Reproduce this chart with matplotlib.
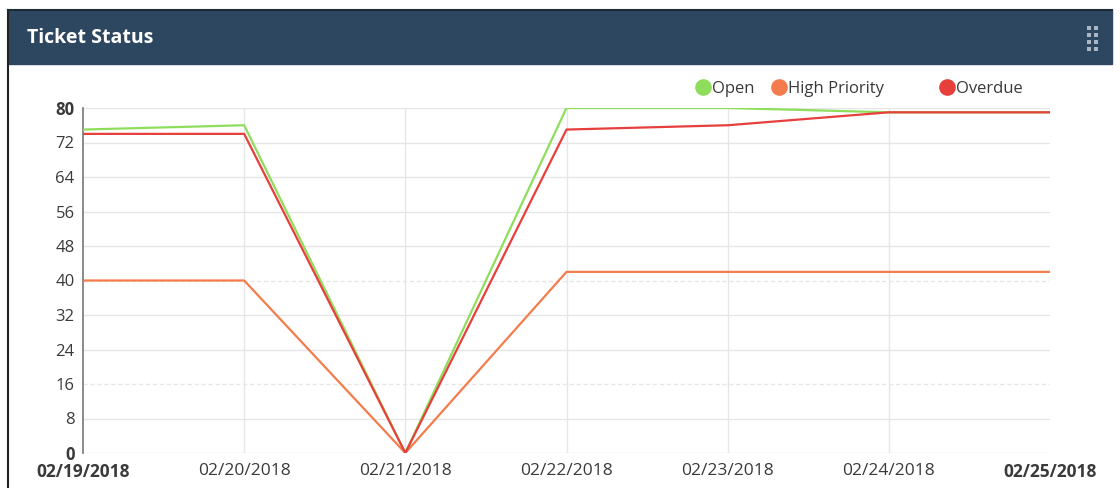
import matplotlib.pyplot as plt
from matplotlib.patches import Rectangle
from matplotlib.lines import Line2D

plt.rcParams['font.family'] = ['Open Sans', 'DejaVu Sans']

dates = ['02/19/2018', '02/20/2018', '02/21/2018', '02/22/2018',
         '02/23/2018', '02/24/2018', '02/25/2018']
open_vals = [75, 76, 0, 80, 80, 79, 79]
high_priority = [40, 40, 0, 42, 42, 42, 42]
overdue = [74, 74, 0, 75, 76, 79, 79]
y_ticks = [0, 8, 16, 24, 32, 40, 48, 56, 64, 72, 80]

green = '#8ede5c'
orange = '#f47c4c'
red = '#e63f3c'
text_col = '#3a3a3a'

W, H = 1120, 488
fig = plt.figure(figsize=(W / 100, H / 100), dpi=100)

# card header + frame
fig.add_artist(Rectangle((8 / W, 1 - 64 / H), 1104 / W, 54 / H,
                         transform=fig.transFigure, color='#2e4760', zorder=0))
fig.add_artist(Line2D([8 / W, 8 / W], [0, 1 - 10 / H], transform=fig.transFigure,
                      color='#222222', lw=1.5))
fig.add_artist(Line2D([8 / W, 1112 / W], [1 - 10 / H, 1 - 10 / H],
                      transform=fig.transFigure, color='#1c2a38', lw=1.5))
fig.text(27 / W, 1 - 38 / H, 'Ticket Status', color='white', fontsize=14,
         fontweight='bold', va='center', ha='left')
# drag handle dots
for cx in (1089, 1096):
    for cy in (28, 35, 42, 49):
        fig.add_artist(Line2D([cx / W], [1 - cy / H], marker='s', ms=2.6, mew=0,
                              color='#aab6c3', transform=fig.transFigure))

ax = fig.add_axes([83 / W, 35 / H, 967 / W, 345 / H])
x = list(range(len(dates)))
ax.plot(x, high_priority, color=orange, lw=1.6, zorder=3)
ax.plot(x, open_vals, color=green, lw=1.6, zorder=4)
ax.plot(x, overdue, color=red, lw=1.6, zorder=5)

ax.set_xlim(0, len(dates) - 1)
ax.set_ylim(0, 80)
ax.set_yticks(y_ticks)
ax.set_xticks(x)
ax.set_xticklabels(dates)
ax.tick_params(length=0, colors=text_col)
ax.tick_params(axis='x', labelsize=12.5, pad=7)
ax.tick_params(axis='y', labelsize=12, pad=6)
for lab in ax.get_yticklabels():
    if lab.get_text() in ('0', '80'):
        lab.set_fontweight('bold')
for i, lab in enumerate(ax.get_xticklabels()):
    if i in (0, len(dates) - 1):
        lab.set_fontweight('bold')

for yv in y_ticks:
    ls = (0, (3, 2)) if yv in (16, 40) else '-'
    ax.axhline(yv, color='#e6e6e6', lw=1, ls=ls, zorder=1)
for xv in x[1:-1]:
    ax.axvline(xv, color='#e6e6e6', lw=1, zorder=1)

for s in ('top', 'right', 'bottom'):
    ax.spines[s].set_visible(False)
ax.spines['left'].set_color('#777777')
ax.spines['left'].set_linewidth(1.2)

# legend
legend_items = [('Open', green, 703), ('High Priority', orange, 779), ('Overdue', red, 947)]
for name, col, px in legend_items:
    fig.add_artist(Line2D([px / W], [1 - 87 / H], marker='o', ms=12, mew=0, color=col,
                          transform=fig.transFigure))
    fig.text((px + 9) / W, 1 - 87 / H, name, color=text_col, fontsize=12,
             va='center_baseline', ha='left')

fig.savefig('out.png', dpi=100)
